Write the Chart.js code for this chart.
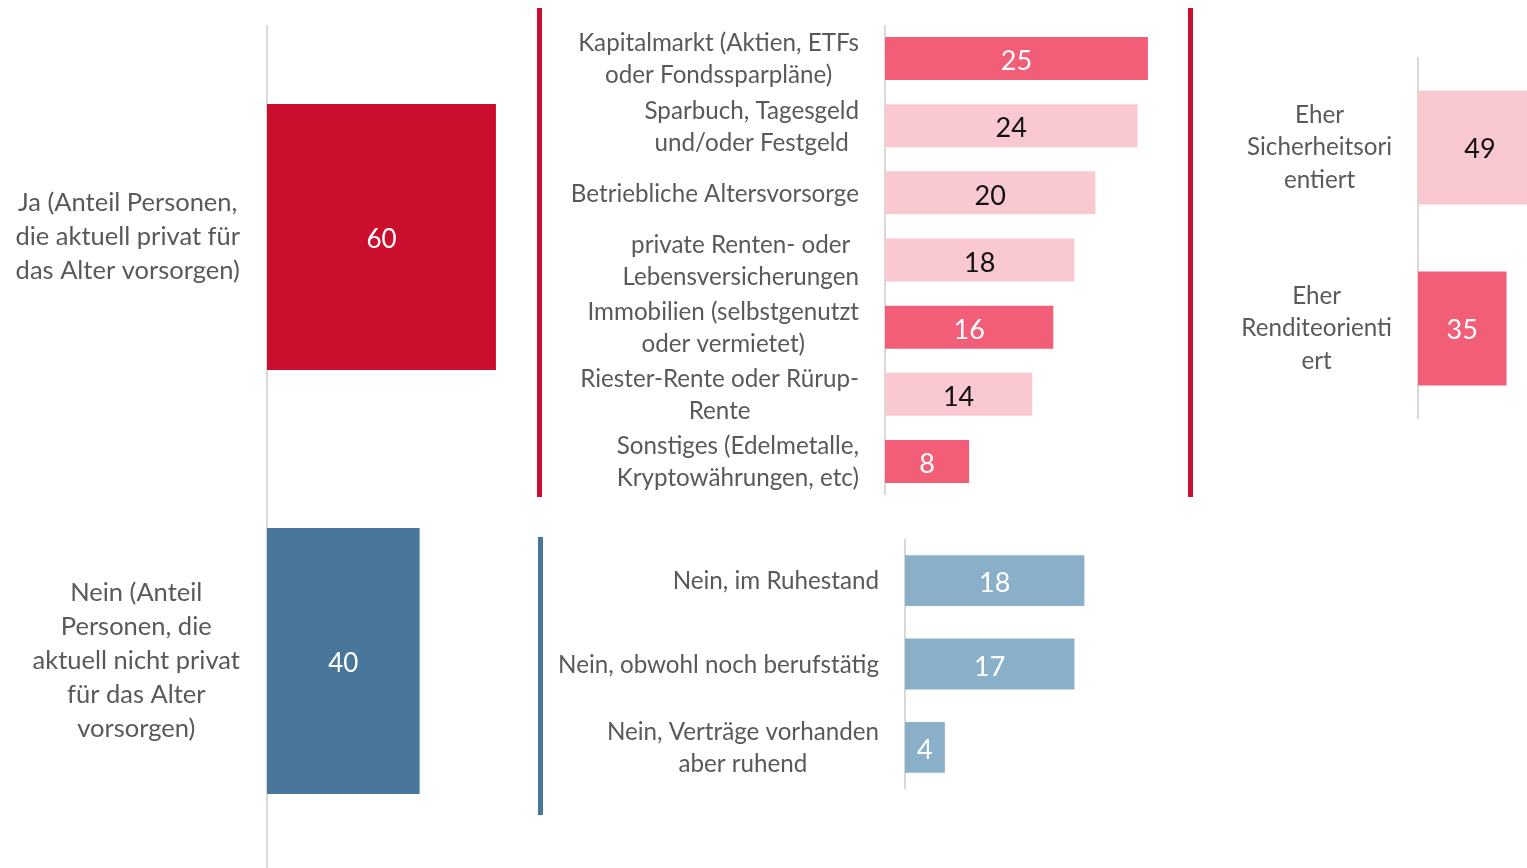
<!DOCTYPE html>
<html><head><meta charset="utf-8">
<script src="https://cdn.jsdelivr.net/npm/chart.js@4/dist/chart.umd.min.js"></script>
<style>
html,body{margin:0;padding:0;width:1527px;height:868px;overflow:hidden;background:#fff;}
canvas{position:absolute;}
.vline{position:absolute;}
</style></head><body>
<div class="vline" style="left:537px;top:8px;width:5px;height:489px;background:#CC0E2E"></div>
<div class="vline" style="left:1188px;top:8px;width:5px;height:489px;background:#CC0E2E"></div>
<div class="vline" style="left:538px;top:537px;width:5px;height:278px;background:#48779B"></div>
<canvas id="cA" width="536" height="848" style="left:0;top:25px;width:536px;height:848px"></canvas>
<canvas id="cB" width="645" height="470" style="left:545px;top:25px;width:645px;height:470px"></canvas>
<canvas id="cC" width="400" height="362" style="left:1195px;top:57px;width:400px;height:362px"></canvas>
<canvas id="cD" width="659" height="250" style="left:545px;top:539px;width:659px;height:250px"></canvas>
<script>
// ---- data ----
const catsA = [["Ja (Anteil Personen,","die aktuell privat für","das Alter vorsorgen)"],
               ["Nein (Anteil","Personen, die","aktuell nicht privat","für das Alter","vorsorgen)"]];
const valsA = [60, 40];
const catsB = [["Kapitalmarkt (Aktien, ETFs","oder Fondssparpläne)"],
               ["Sparbuch, Tagesgeld","und/oder Festgeld"],
               ["Betriebliche Altersvorsorge"],
               ["private Renten- oder","Lebensversicherungen"],
               ["Immobilien (selbstgenutzt","oder vermietet)"],
               ["Riester-Rente oder Rürup-","Rente"],
               ["Sonstiges (Edelmetalle,","Kryptowährungen, etc)"]];
const valsB = [25, 24, 20, 18, 16, 14, 8];
const catsC = [["Eher","Sicherheitsori","entiert"],["Eher","Renditeorienti","ert"]];
const valsC = [49, 35];
const catsD = [["Nein, im Ruhestand"],["Nein, obwohl noch berufstätig"],["Nein, Verträge vorhanden","aber ruhend"]];
const valsD = [18, 17, 4];

// ---- styles ----
const RED='#CC0E2E', BLUE='#48779B', PINK='#F25D77', LPINK='#F9C8D1', LBLUE='#8AAFC9';
const FONT='Lato, "Open Sans", sans-serif';

const blockLabels = {
  id:'blockLabels',
  afterDraw(chart, args, o){
    const ys = chart.scales.y, ctx = chart.ctx;
    ctx.save();
    ctx.font = o.size+'px '+FONT;
    ctx.fillStyle = '#595959';
    ctx.textAlign = 'center';
    ctx.textBaseline = 'middle';
    const right = ys.right - o.padding;
    chart.data.labels.forEach((lab,i)=>{
      const lines = Array.isArray(lab)?lab:[lab];
      const w = Math.max(...lines.map(l=>ctx.measureText(l).width));
      const cx = right - w/2;
      const yc = ys.getPixelForTick(i);
      const n = lines.length;
      lines.forEach((l,j)=>ctx.fillText(l, cx, yc + (j-(n-1)/2)*o.lineHeight + o.dy));
    });
    ctx.restore();
  }
};
const valueLabels = {
  id:'valueLabels',
  afterDatasetsDraw(chart, args, o){
    const ctx = chart.ctx, meta = chart.getDatasetMeta(0), ds = chart.data.datasets[0];
    ctx.save();
    ctx.font = o.size+'px '+FONT;
    ctx.textAlign='center'; ctx.textBaseline='middle';
    meta.data.forEach((bar,i)=>{
      const p = bar.getProps(['x','y','base'], true);
      ctx.fillStyle = o.colors[i];
      ctx.fillText(String(ds.data[i]), (p.x+p.base)/2, p.y + o.dy);
    });
    ctx.restore();
  }
};

function makeChart(id, labels, values, colors, max, axisW, barPct, lab, val){
  return new Chart(document.getElementById(id), {
    type:'bar',
    data:{labels, datasets:[{data:values, backgroundColor:colors, borderWidth:0,
          barPercentage:barPct, categoryPercentage:1}]},
    options:{
      indexAxis:'y', responsive:false, animation:false, devicePixelRatio:1,
      layout:{padding:0},
      plugins:{legend:{display:false}, tooltip:{enabled:false}, blockLabels:lab, valueLabels:val},
      scales:{
        x:{display:false, min:0, max},
        y:{grid:{display:false}, ticks:{display:false},
           border:{display:true, color:'#D9D9D9', width:2},
           afterFit(s){ s.width = axisW; }}
      }
    },
    plugins:[blockLabels, valueLabels]
  });
}

makeChart('cA', catsA, valsA, [RED, BLUE], 70.5, 267, 0.627,
  {size:25.5, lineHeight:34, padding:27, dy:0},
  {size:26, dy:3, colors:['#fff','#fff']});
makeChart('cB', catsB, valsB, [PINK,LPINK,LPINK,LPINK,PINK,LPINK,PINK], 29, 340, 0.64,
  {size:24.2, lineHeight:32, padding:26, dy:1},
  {size:27, dy:3, colors:['#fff','#111','#111','#111','#fff','#111','#fff']});
makeChart('cC', catsC, valsC, [LPINK, PINK], 70, 223, 0.63,
  {size:24.2, lineHeight:32.5, padding:26, dy:0},
  {size:27, dy:2, colors:['#111','#fff']});
makeChart('cD', catsD, valsD, [LBLUE, LBLUE, LBLUE], 30, 360, 0.61,
  {size:24.2, lineHeight:32, padding:26, dy:1},
  {size:27, dy:3, colors:['#fff','#fff','#fff']});
</script>
</body></html>
